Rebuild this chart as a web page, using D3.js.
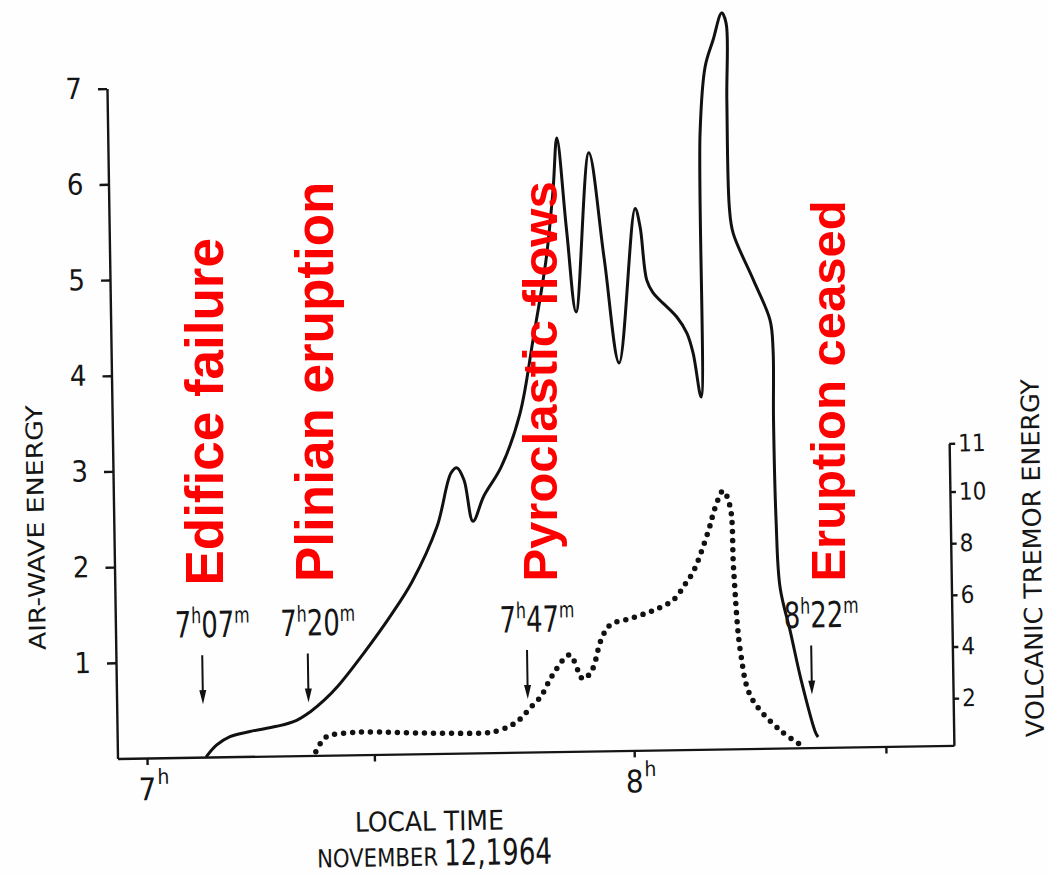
<!DOCTYPE html>
<html>
<head>
<meta charset="utf-8">
<script src="https://cdn.jsdelivr.net/npm/d3@7"></script>
<style>
  body { margin: 0; background: #fefefe; }
  svg text { font-family: "Liberation Sans Narrow", "DejaVu Sans Condensed", sans-serif; fill: #151515; }
  .axis path, .axis line { stroke: #151515; stroke-width: 2.4; }
  .axis text { font-size: 29px; }
  .axis.right text { font-size: 24px; }
  .note { font-family: "Liberation Sans", Arial, sans-serif !important; font-weight: bold; fill: #ff0000 !important; }
</style>
</head>
<body>
<div class="graph"></div>
<script>
const w = 1049;
const h = 876;
const frame = {x: 117.5, y: 758.5, width: 836.5, tilt: -0.9};

// solid curve: air-wave energy, time in minutes after 7h00m
const airMinutes = [7.27, 8.61, 10.26, 12.74, 16.03, 18.5, 20.25, 22.0, 23.6, 26.9, 30.3, 33.0, 36.16,
  38.0, 38.74, 39.58, 40.6, 41.97, 44.16, 46.6, 48.35, 50.1, 51.1, 51.66, 52.68, 53.7, 55.57,
  57.25, 58.9, 61.16, 61.74, 62.46, 63.2, 66.09, 67.3, 68.03, 68.93, 69.31, 70.06, 71.1, 72.2,
  72.73, 72.67, 72.77, 73.18, 75.56, 77.57, 77.88, 77.8, 77.92, 78.28, 79.5, 80.69, 82.4, 82.68];
const airEnergy = [0, 0.125, 0.21, 0.26, 0.31, 0.37, 0.46, 0.58, 0.715, 1.06, 1.45, 1.80, 2.37,
  2.93, 2.98, 2.85, 2.42, 2.68, 2.98, 3.54, 4.31, 5.14, 5.87, 6.41, 5.45, 4.59, 6.25,
  5.15, 4.05, 5.66, 5.47, 4.91, 4.78, 4.52, 4.35, 4.14, 3.68, 6.44, 7.13, 7.41, 7.69,
  7.58, 6.78, 5.66, 5.39, 4.90, 4.47, 4.16, 3.43, 2.38, 1.68, 1.20, 0.71, 0.15, 0.11];

// dotted curve: volcanic tremor energy
const tremorMinutes = [20.8, 22.1, 25.17, 27.4, 33.4, 41.7, 42.79, 44.6, 45.89, 47.27, 48.6, 49.53,
  50.5, 52.24, 53.85, 54.97, 56.14, 57.28, 60.0, 62.8, 65.1, 66.7, 67.73, 69.6, 70.43, 71.45,
  72.29, 72.6, 73.3, 74.5, 78.0, 80.57];
const tremorEnergy = [0.32, 0.88, 1.03, 1.05, 0.98, 0.94, 0.98, 1.17, 1.42, 1.88, 2.31, 2.83,
  3.33, 3.91, 2.97, 3.31, 4.47, 5.04, 5.30, 5.6, 5.97, 6.62, 7.12, 8.66, 9.51, 10.09,
  9.54, 7.1, 3.88, 2.17, 0.87, 0.28];

const airTicks = [1, 2, 3, 4, 5, 6, 7];
const tremorTicks = [2, 4, 6, 8, 10, 11];
const timeTicks = [0, 28, 60, 91];
const timeLabels = ["7", "", "8", ""];

const eventMinutes = [7, 20, 47, 82];
const eventHours = ["7", "7", "7", "8"];
const eventMins = ["07", "20", "47", "22"];

const notes = ["Edifice failure", "Plinian eruption", "Pyroclastic flows", "Eruption ceased"];
const noteX = [222.7, 333.3, 556.7, 845];
const noteY = [585.6, 582, 581.6, 581.6];
const noteSize = [53, 53, 49, 49];

const svg = d3.select(".graph").append("svg")
  .attr("width", w)
  .attr("height", h);

svg.append("rect").attr("width", w).attr("height", h).attr("fill", "#fefefe");

const x = d3.scaleLinear().domain([-3.633, 99.38]).range([0, frame.width]);
const yAir = d3.scaleLinear().domain([0, 7]).range([0, -670]);
const yTremor = d3.scaleLinear().domain([0.175, 10, 11]).range([0, -253.8, -302]);

// the scanned figure sits slightly tilted
const plot = svg.append("g")
  .attr("transform", `translate(${frame.x},${frame.y}) rotate(${frame.tilt})`);

plot.append("g").attr("class", "axis")
  .call(d3.axisBottom(x).tickValues(timeTicks).tickSize(7).tickSizeOuter(0).tickFormat(""));

plot.append("g").attr("class", "axis")
  .call(d3.axisLeft(yAir).tickValues(airTicks).tickSize(9).tickSizeOuter(0)
    .tickPadding(16).tickFormat(d3.format("d")));

plot.append("g").attr("class", "axis right")
  .attr("transform", `translate(${frame.width},0)`)
  .call(d3.axisRight(yTremor).tickValues(tremorTicks).tickSize(6).tickSizeOuter(0)
    .tickPadding(3).tickFormat(d3.format("d")));

// time tick labels with superscript h
timeTicks.forEach((t, i) => {
  if (!timeLabels[i]) return;
  plot.append("text")
    .attr("x", x(t)).attr("y", 42)
    .attr("text-anchor", "middle")
    .attr("font-size", 31)
    .text(timeLabels[i]);
  plot.append("text")
    .attr("x", x(t) + 10).attr("y", 26)
    .attr("font-size", 21)
    .text("h");
});

// axis titles
plot.append("text")
  .attr("transform", "translate(-78,-232) rotate(-90)")
  .attr("text-anchor", "middle")
  .attr("dy", "0.35em")
  .attr("font-size", 23)
  .attr("textLength", 245)
  .attr("lengthAdjust", "spacingAndGlyphs")
  .text("AIR-WAVE ENERGY");

plot.append("text")
  .attr("transform", "translate(918,-186) rotate(-90)")
  .attr("text-anchor", "middle")
  .attr("dy", "0.35em")
  .attr("font-size", 25)
  .attr("textLength", 358)
  .attr("lengthAdjust", "spacingAndGlyphs")
  .text("VOLCANIC TREMOR ENERGY");

plot.append("text")
  .attr("x", 236.3).attr("y", 77)
  .attr("font-size", 27)
  .attr("textLength", 149)
  .attr("lengthAdjust", "spacingAndGlyphs")
  .text("LOCAL TIME");

plot.append("text")
  .attr("x", 198).attr("y", 112)
  .attr("font-size", 25)
  .attr("textLength", 121)
  .attr("lengthAdjust", "spacingAndGlyphs")
  .text("NOVEMBER");

plot.append("text")
  .attr("x", 325).attr("y", 112)
  .attr("font-size", 36)
  .attr("textLength", 108)
  .attr("lengthAdjust", "spacingAndGlyphs")
  .text("12,1964");

// curves
const airLine = d3.line()
  .x((d, i) => x(airMinutes[i]))
  .y(d => yAir(d))
  .curve(d3.curveCatmullRom.alpha(0.5));

plot.append("path")
  .attr("d", airLine(airEnergy))
  .attr("fill", "none")
  .attr("stroke", "#111")
  .attr("stroke-width", 3)
  .attr("stroke-linejoin", "round");

const tremorLine = d3.line()
  .x((d, i) => x(tremorMinutes[i]))
  .y(d => yTremor(d))
  .curve(d3.curveCatmullRom.alpha(0.5));

plot.append("path")
  .attr("d", tremorLine(tremorEnergy))
  .attr("fill", "none")
  .attr("stroke", "#111")
  .attr("stroke-width", 5.5)
  .attr("stroke-linecap", "round")
  .attr("stroke-dasharray", "0 9");

// event arrows and labels
eventMinutes.forEach((m, i) => {
  const ex = x(m);
  plot.append("line")
    .attr("x1", ex).attr("x2", ex)
    .attr("y1", -102).attr("y2", -62)
    .attr("stroke", "#111").attr("stroke-width", 2);
  plot.append("path")
    .attr("d", `M${ex - 3.5},${-67} L${ex},${-53} L${ex + 3.5},${-67} Z`)
    .attr("fill", "#111");
  const t = plot.append("text")
    .attr("transform", `translate(${ex - 27},-120) scale(0.8,1)`);
  t.append("tspan").attr("font-size", 36).text(eventHours[i]);
  t.append("tspan").attr("font-size", 22).attr("dy", -14).text("h");
  t.append("tspan").attr("font-size", 36).attr("dy", 14).text(eventMins[i]);
  t.append("tspan").attr("font-size", 22).attr("dy", -14).text("m");
});

// red annotations laid over the scan
notes.forEach((s, i) => {
  svg.append("text")
    .attr("class", "note")
    .attr("transform", `translate(${noteX[i]},${noteY[i]}) rotate(-90)`)
    .attr("font-size", noteSize[i])
    .text(s);
});
</script>
</body>
</html>
